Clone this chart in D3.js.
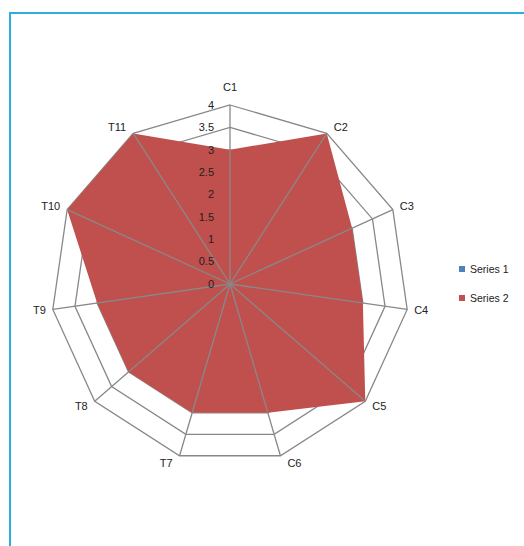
<!DOCTYPE html>
<html>
<head>
<meta charset="utf-8">
<script src="https://cdn.jsdelivr.net/npm/d3@7"></script>
<style>
  html, body { margin: 0; padding: 0; background: #fff; }
  svg text { font-family: "Liberation Sans", "DejaVu Sans", sans-serif; }
</style>
</head>
<body>
<svg id="chart"></svg>
<script>
var width = 524;
var height = 546;

var categories = ['C1', 'C2', 'C3', 'C4', 'C5', 'C6', 'T7', 'T8', 'T9', 'T10', 'T11'];
var series1 = [0, 0, 0, 0, 0, 0, 0, 0, 0, 0, 0];
var series2 = [3, 4, 3, 3, 4, 3, 3, 3, 3, 4, 4];
var seriesNames = ['Series 1', 'Series 2'];
var ticks = [0, 0.5, 1, 1.5, 2, 2.5, 3, 3.5, 4];

var cx = 230, cy = 284, radius = 179;
var gridColor = '#888888';

function color(name){
  switch(name) {
    case 'Series 1':
      return '#4f81bd';
    case 'Series 2':
      return '#c0504d';
    default:
      return 'black';
  }
}

var rScale = d3.scaleLinear().domain([0, 4]).range([0, radius]);
var angle = d3.scalePoint().domain(categories.concat(['_end'])).range([0, 2 * Math.PI]);

function pt(cat, v){
  var a = angle(cat);
  return [cx + rScale(v) * Math.sin(a), cy - rScale(v) * Math.cos(a)];
}

var svg = d3.select('#chart').attr('width', width).attr('height', height);

// frame
svg.append('path')
  .attr('d', `M10,${height + 5} L10,13 L${width + 5},13`)
  .attr('fill', 'none')
  .attr('stroke', '#2eaee0')
  .attr('stroke-width', 2);

// rings
svg.append('g').selectAll('polygon')
  .data(ticks.slice(1))
  .join('polygon')
    .attr('points', t => categories.map(c => pt(c, t).join(',')).join(' '))
    .attr('fill', 'none')
    .attr('stroke', gridColor)
    .attr('stroke-width', 1.3);

// series areas
var seriesData = [series1, series2];
svg.append('g').selectAll('polygon')
  .data(seriesData)
  .join('polygon')
    .attr('points', vals => categories.map((c, i) => pt(c, vals[i]).join(',')).join(' '))
    .attr('fill', (d, i) => color(seriesNames[i]))
    .attr('stroke', 'none');

// spokes
svg.append('g').selectAll('line')
  .data(categories)
  .join('line')
    .attr('x1', cx).attr('y1', cy)
    .attr('x2', c => pt(c, 4)[0])
    .attr('y2', c => pt(c, 4)[1])
    .attr('stroke', gridColor)
    .attr('stroke-width', 1.3);

// value labels
svg.append('g').selectAll('text')
  .data(ticks)
  .join('text')
    .attr('x', cx - 16)
    .attr('y', t => cy - rScale(t))
    .attr('dy', '0.35em')
    .style('text-anchor', 'end')
    .style('font-size', '11px')
    .attr('fill', '#222')
    .text(t => t);

// category labels
svg.append('g').selectAll('text')
  .data(categories)
  .join('text')
    .attr('x', c => {
      var p = pt(c, 4), s = Math.sin(angle(c));
      return p[0] + (Math.abs(s) < 0.01 ? 0 : (s > 0 ? 7 : -7));
    })
    .attr('y', c => {
      var p = pt(c, 4), k = Math.cos(angle(c));
      // top label sits higher, clear of the "4" tick label
      return p[1] - k * 8 - (k > 0.99 ? 10 : 0);
    })
    .attr('dy', '0.35em')
    .style('text-anchor', c => {
      var s = Math.sin(angle(c));
      return Math.abs(s) < 0.01 ? 'middle' : (s > 0 ? 'start' : 'end');
    })
    .style('font-size', '11px')
    .attr('fill', '#222')
    .text(c => c);

// legend
var legend = svg.append('g').selectAll('g')
  .data(seriesNames)
  .join('g')
    .attr('transform', (d, i) => `translate(459, ${269 + i * 29})`);

legend.append('rect')
  .attr('x', 0).attr('y', -3)
  .attr('width', 6).attr('height', 6)
  .attr('fill', d => color(d));

legend.append('text')
  .attr('x', 11).attr('y', 0)
  .attr('dy', '0.35em')
  .style('font-size', '10.5px')
  .attr('fill', '#222')
  .text(d => d);
</script>
</body>
</html>
